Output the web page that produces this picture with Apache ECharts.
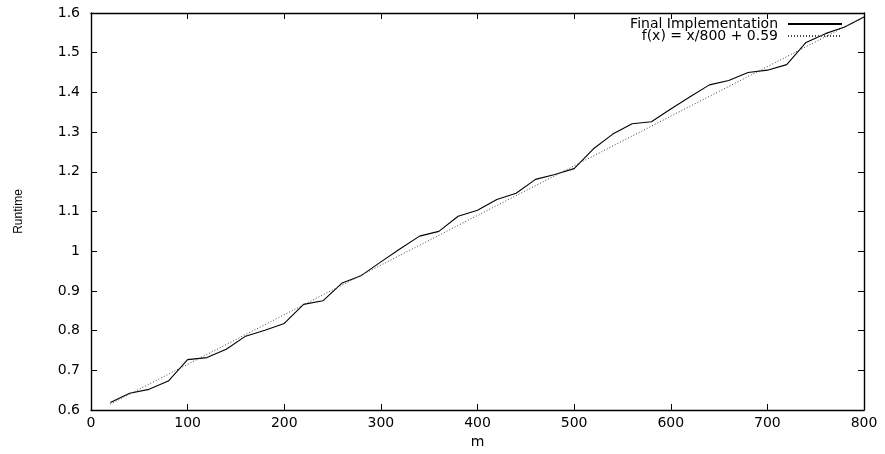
<!DOCTYPE html>
<html>
<head>
<meta charset="utf-8">
<script src="https://cdn.jsdelivr.net/npm/echarts@6/dist/echarts.min.js"></script>
<style>html,body{margin:0;padding:0;background:#fff;}#c{width:885px;height:454px;}</style>
</head>
<body>
<div id="c"></div>
<script>
var mValues = [20,40,60,80,100,120,140,160,180,200,220,240,260,280,300,320,340,360,380,400,420,440,460,480,500,520,540,560,580,600,620,640,660,680,700,720,740,760,780,800];
var runtimeValues = [0.619,0.642,0.652,0.673,0.727,0.732,0.753,0.786,0.801,0.818,0.866,0.875,0.920,0.939,0.973,1.006,1.038,1.050,1.088,1.103,1.130,1.146,1.181,1.193,1.208,1.258,1.295,1.321,1.326,1.358,1.389,1.419,1.430,1.450,1.456,1.470,1.526,1.548,1.565,1.590];
var fitX = [20, 800];
var fitY = [0.615, 1.590];
var seriesNames = ['Final Implementation', 'f(x) = x/800 + 0.59'];

var font = 'DejaVu Sans, Liberation Sans, Arial, sans-serif';
var fontNarrow = 'Liberation Sans, Arial, Helvetica, sans-serif';
function pairs(xs, ys){ return xs.map(function(x,i){ return [x, ys[i]]; }); }

var chart = echarts.init(document.getElementById('c'), null, {renderer:'canvas'});
var axisCommon = {
  axisLine:{show:true, onZero:false, lineStyle:{color:'#000', width:1.4}},
  axisTick:{show:true, inside:true, length:6, lineStyle:{color:'#000', width:1}},
  splitLine:{show:false}
};
chart.setOption({
  animation:false,
  backgroundColor:'#fff',
  grid:{left:91, right:21, top:13, bottom:44},
  legend:{
    orient:'vertical', right:37, top:12, align:'right',
    itemWidth:54, itemHeight:8, itemGap:-2,
    itemStyle:{opacity:0},
    textStyle:{fontFamily:font, fontSize:14, color:'#000', lineHeight:11, padding:[0,5,0,0]},
    data:[{name:seriesNames[0]},{name:seriesNames[1]}]
  },
  xAxis:[
    Object.assign({type:'value', min:0, max:800, interval:100, position:'bottom',
      name:'m', nameLocation:'middle', nameGap:25,
      nameTextStyle:{fontFamily:font, fontSize:14, color:'#000'},
      axisLabel:{fontFamily:font, fontSize:14, color:'#000', margin:6}}, axisCommon),
    Object.assign({type:'value', min:0, max:800, interval:100, position:'top',
      axisLabel:{show:false}}, axisCommon)
  ],
  yAxis:[
    Object.assign({type:'value', min:0.6, max:1.6, interval:0.1, position:'left',
      name:'Runtime', nameLocation:'middle', nameGap:66, nameRotate:90,
      nameTextStyle:{fontFamily:fontNarrow, fontSize:12, color:'#000'},
      axisLabel:{fontFamily:font, fontSize:14, color:'#000', margin:11,
        formatter:function(v){ return (Math.round(v*10)/10).toString(); }}}, axisCommon),
    Object.assign({type:'value', min:0.6, max:1.6, interval:0.1, position:'right',
      axisLabel:{show:false}}, axisCommon)
  ],
  series:[
    {name:seriesNames[0], type:'line', xAxisIndex:0, yAxisIndex:0, symbol:'none',
      lineStyle:{color:'#000', width:1.1}, itemStyle:{color:'#000'},
      data:pairs(mValues, runtimeValues)},
    {name:seriesNames[1], type:'line', xAxisIndex:0, yAxisIndex:0, symbol:'none',
      lineStyle:{color:'#444', width:1, type:[1,2]}, itemStyle:{color:'#444'},
      data:pairs(fitX, fitY)}
  ]
});
</script>
</body>
</html>
